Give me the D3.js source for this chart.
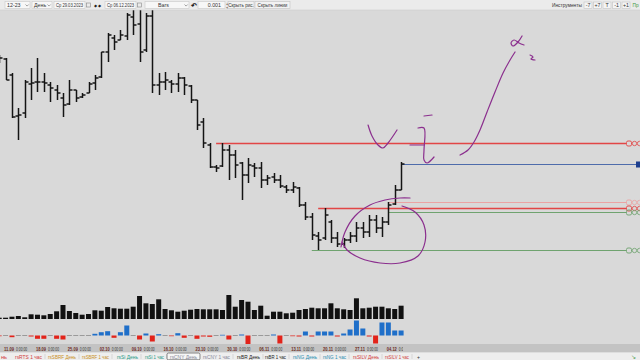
<!DOCTYPE html>
<html>
<head>
<meta charset="utf-8">
<script src="https://cdn.jsdelivr.net/npm/d3@7"></script>
<style>
html, body { margin: 0; padding: 0; background: #d9d9d9; overflow: hidden; }
svg { display: block; font-family: "Liberation Sans", Arial, sans-serif; }
</style>
</head>
<body>
<svg id="vis" width="640" height="360"></svg>
<script>
'use strict';

// daily bars, rsCNY
var dates = ['08.09', '11.09', '12.09', '13.09', '14.09', '15.09', '18.09', '19.09', '20.09', '21.09',
    '22.09', '25.09', '26.09', '27.09', '28.09', '29.09', '02.10', '03.10', '04.10', '05.10',
    '06.10', '09.10', '10.10', '11.10', '12.10', '13.10', '16.10', '17.10', '18.10', '19.10',
    '20.10', '23.10', '24.10', '25.10', '26.10', '27.10', '30.10', '31.10', '01.11', '02.11',
    '03.11', '06.11', '07.11', '08.11', '09.11', '10.11', '13.11', '14.11', '15.11', '16.11',
    '17.11', '20.11', '21.11', '22.11', '23.11', '24.11', '27.11', '28.11', '29.11', '30.11',
    '01.12', '04.12', '05.12', '06.12'];
var open = [14.00, 14.01, 13.85, 13.44, 13.47, 13.76, 13.78, 13.78, 13.75, 13.70,
    13.62, 13.56, 13.70, 13.63, 13.67, 13.77, 13.83, 14.08, 14.22, 14.20,
    14.24, 14.43, 14.36, 14.10, 14.44, 13.75, 13.78, 13.78, 13.76, 13.82,
    13.74, 13.60, 13.38, 13.15, 12.93, 12.94, 13.10, 13.05, 12.97, 12.85,
    12.94, 12.92, 12.80, 12.83, 12.80, 12.73, 12.70, 12.72, 12.55, 12.43,
    12.24, 12.22, 12.38, 12.22, 12.16, 12.20, 12.24, 12.32, 12.28, 12.40,
    12.32, 12.38, 12.56, 12.70];
var high = [14.05, 14.02, 13.87, 13.52, 13.80, 13.92, 14.02, 13.87, 13.78, 13.75,
    13.67, 13.80, 13.70, 13.67, 13.78, 13.85, 14.08, 14.27, 14.25, 14.30,
    14.47, 14.50, 14.50, 14.47, 14.50, 13.87, 13.88, 13.80, 13.87, 13.83,
    13.75, 13.60, 13.42, 13.17, 12.95, 13.17, 13.15, 13.10, 12.98, 13.02,
    12.97, 12.98, 12.85, 12.87, 12.85, 12.75, 12.78, 12.73, 12.58, 12.47,
    12.28, 12.52, 12.40, 12.28, 12.22, 12.28, 12.38, 12.38, 12.45, 12.45,
    12.43, 12.58, 12.75, 12.98];
var low = [13.97, 13.80, 13.42, 13.20, 13.42, 13.60, 13.68, 13.68, 13.58, 13.60,
    13.43, 13.55, 13.58, 13.62, 13.67, 13.70, 13.82, 13.98, 14.10, 14.20,
    14.20, 14.25, 13.98, 14.08, 13.67, 13.65, 13.70, 13.67, 13.68, 13.65,
    13.57, 13.30, 13.12, 12.92, 12.88, 12.93, 12.80, 12.82, 12.60, 12.77,
    12.83, 12.72, 12.75, 12.77, 12.72, 12.67, 12.67, 12.53, 12.40, 12.20,
    12.10, 12.20, 12.17, 12.13, 12.12, 12.17, 12.18, 12.22, 12.23, 12.27,
    12.23, 12.35, 12.55, 12.70];
var close = [14.02, 13.80, 13.43, 13.45, 13.78, 13.77, 13.78, 13.77, 13.72, 13.67,
    13.55, 13.70, 13.62, 13.65, 13.76, 13.82, 14.08, 14.25, 14.18, 14.25,
    14.45, 14.35, 14.08, 14.44, 13.75, 13.78, 13.80, 13.76, 13.82, 13.75,
    13.60, 13.35, 13.17, 12.93, 12.92, 13.10, 13.05, 12.95, 12.85, 12.95,
    12.92, 12.80, 12.82, 12.80, 12.74, 12.70, 12.73, 12.55, 12.43, 12.25,
    12.20, 12.45, 12.22, 12.16, 12.20, 12.24, 12.32, 12.28, 12.40, 12.32,
    12.38, 12.55, 12.70, 12.96];
var volume = [1.3, 1.3, 2.3, 3.0, 1.7, 4.7, 4.3, 3.7, 5.0, 7.7,
    14.0, 8.0, 6.0, 4.3, 5.0, 8.7, 8.3, 12.0, 10.7, 10.3,
    10.3, 12.3, 23.0, 15.7, 15.0, 19.7, 10.0, 8.7, 7.3, 8.3,
    9.3, 10.0, 9.7, 9.7, 9.7, 9.0, 24.0, 12.3, 19.0, 17.3,
    9.0, 13.3, 3.3, 7.3, 7.3, 5.7, 6.3, 9.0, 10.0, 11.3,
    10.7, 10.7, 15.7, 10.7, 9.7, 9.0, 20.7, 10.7, 11.3, 12.3,
    12.3, 10.7, 10.0, 13.3];
var delta = [-0.7, 0, -1.7, 0, 0, -1, -3.3, -3.3, 0, -3.3,
    -4, 0, 0, 0, 0, 1.7, 3.3, 4.3, -2.3, 3.3,
    10, 0, -4, 2, -6, 1.3, 0, -0.7, 2.3, -2.3,
    0, -3.3, -1, -1.3, 0, 0.7, -4, 0, 1, -9,
    0, 0.3, 0, 1, -8, 0, -0.7, -1, 4, -1,
    4, 4, 4, -1, 2, 6, 15, 7, -1, -8,
    13, 13, 5, 5];
var weekTicks = ['11.09', '18.09', '25.09', '02.10', '09.10', '16.10', '23.10',
    '30.10', '06.11', '13.11', '20.11', '27.11', '04.12'];
var tickTime = '0:00:00';

// horizontal levels: price, first bar, kind
var levelPrice = [13.17, 12.96, 12.58, 12.52, 12.48, 12.10];
var levelFrom = ['26.10', '06.12', '04.12', '17.11', '04.12', '16.11'];
var levelKind = ['resist', 'last', 'weak', 'resist', 'support', 'support'];

// hand drawn strokes, [bar index, price]
var inkStrokes = [
    [[57.82, 13.35], [58.44, 13.24], [59.38, 13.15], [60.17, 13.12], [60.95, 13.17], [62.36, 13.30]],
    [[66.59, 13.44], [67.85, 13.45]],
    [[65.65, 13.32], [66.59, 13.32], [66.59, 13.10], [66.59, 13.00], [67.06, 12.97], [68.16, 13.03]],
    [[64.40, 13.15], [66.59, 13.15]],
    [[72.24, 13.05], [73.49, 13.10], [74.43, 13.18], [75.37, 13.30], [76.47, 13.48], [77.72, 13.68],
        [78.98, 13.87], [80.08, 14.00], [80.86, 14.08]],
    [[81.96, 14.24], [81.33, 14.18], [80.55, 14.14], [80.23, 14.17], [80.70, 14.20], [81.49, 14.17], [82.27, 14.15]],
    [[83.21, 14.05], [83.68, 14.03], [83.37, 14.01], [83.99, 14.00]],
    [[53.58, 12.13], [54.21, 12.28], [55.78, 12.44], [58.13, 12.55], [60.48, 12.60], [62.83, 12.62], [64.40, 12.62]],
    [[63.14, 12.54], [65.18, 12.48], [66.59, 12.35], [66.75, 12.18], [65.65, 12.04], [62.83, 11.97],
        [59.70, 11.97], [56.56, 12.02], [54.52, 12.10], [53.74, 12.18]]
];

var tabNames = ['rsRTS 1 час', 'rsSBRF День', 'rsSBRF 1 час', 'rsSi День', 'rsSi 1 час',
    'rsCNY День', 'rsCNY 1 час', 'rsBR День', 'rsBR 1 час', 'rsNG День', 'rsNG 1 час',
    'rsSILV День', 'rsSILV 1 час'];
var activeTab = 'rsCNY День';

(function () {
    var svg = d3.select('#vis');
    var width = 640, height = 360;

    var x = d3.scaleLinear().domain([0, dates.length - 1]).range([-0.8, 401.1]);
    var y = d3.scaleLinear().domain([12.0, 14.6]).range([260, 0]);
    var yVol = d3.scaleLinear().domain([0, 24]).range([319, 295]);
    var yDelta = d3.scaleLinear().domain([-10, 16]).range([345.5, 319.5]);

    var levelColor = {resist: '#e24646', weak: '#eba3a3', last: '#4e6cab', support: '#6fa36f'};
    var ink = '#8b2f8e';

    svg.append('rect').attr('width', width).attr('height', height).attr('fill', '#d9d9d9');

    // levels with the little markers at the right
    var lv = svg.append('g');
    levelPrice.forEach(function (p, k) {
        var c = levelColor[levelKind[k]];
        var yy = Math.round(y(p)) + 0.5;
        var x0 = x(dates.indexOf(levelFrom[k]));
        if (levelKind[k] === 'last') {
            lv.append('line').attr('x1', x0).attr('x2', 637).attr('y1', yy).attr('y2', yy)
                .attr('stroke', c).attr('stroke-width', 1);
            lv.append('rect').attr('x', 636).attr('y', yy - 3).attr('width', 5).attr('height', 6)
                .attr('fill', '#1d3f8f');
            return;
        }
        lv.append('line').attr('x1', x0).attr('x2', 626).attr('y1', yy).attr('y2', yy)
            .attr('stroke', c).attr('stroke-width', levelKind[k] === 'resist' ? 1.5 : 1);
        lv.append('rect').attr('x', 626.5).attr('y', yy - 2.5).attr('width', 5).attr('height', 5)
            .attr('rx', 1.5).attr('fill', 'none').attr('stroke', c).attr('stroke-width', 0.9);
        lv.append('circle').attr('cx', 634.5).attr('cy', yy).attr('r', 2.2)
            .attr('fill', 'none').attr('stroke', c).attr('stroke-width', 0.8);
        lv.append('circle').attr('cx', 639.5).attr('cy', yy).attr('r', 2.2)
            .attr('fill', 'none').attr('stroke', c).attr('stroke-width', 0.8);
    });

    // OHLC bars
    var g = svg.append('g').attr('stroke', '#141414').attr('stroke-width', 1.5);
    var bar = g.selectAll('.bar').data(dates).enter().append('g').attr('class', 'bar');
    function bx(d, i) { return Math.round(x(i)) + 0.5; }
    bar.append('line')
        .attr('x1', bx).attr('x2', bx)
        .attr('y1', function (d, i) { return y(high[i]); })
        .attr('y2', function (d, i) { return y(low[i]); });
    bar.append('line')
        .attr('x1', function (d, i) { return bx(d, i) - 3; }).attr('x2', bx)
        .attr('y1', function (d, i) { return y(open[i]); })
        .attr('y2', function (d, i) { return y(open[i]); });
    bar.append('line')
        .attr('x1', bx).attr('x2', function (d, i) { return bx(d, i) + 3; })
        .attr('y1', function (d, i) { return y(close[i]); })
        .attr('y2', function (d, i) { return y(close[i]); });

    // volume
    svg.append('g').selectAll('rect').data(volume).enter().append('rect')
        .attr('x', function (d, i) { return x(i) - 2.5; })
        .attr('width', 5)
        .attr('y', function (d) { return yVol(d); })
        .attr('height', function (d) { return yVol(0) - yVol(d); })
        .attr('fill', '#111');

    // delta histogram
    svg.append('g').selectAll('rect').data(delta).enter().append('rect')
        .attr('x', function (d, i) { return x(i) - 2.5; })
        .attr('width', 5)
        .attr('y', function (d) { return Math.abs(d) < 0.5 ? yDelta(0) - 0.5 : yDelta(Math.max(0, d)); })
        .attr('height', function (d) { return Math.abs(d) < 0.5 ? 1 : Math.abs(yDelta(d) - yDelta(0)); })
        .attr('fill', function (d) {
            if (Math.abs(d) < 0.5) return '#9a9a9a';
            return d > 0 ? '#1f6fc9' : '#e2231a';
        });

    // hand drawn annotations
    var pen = d3.line()
        .x(function (d) { return x(d[0]); })
        .y(function (d) { return y(d[1]); })
        .curve(d3.curveCatmullRom);
    svg.append('g').selectAll('path').data(inkStrokes).enter().append('path')
        .attr('d', pen)
        .attr('fill', 'none')
        .attr('stroke', ink)
        .attr('stroke-width', 1.2)
        .attr('stroke-linecap', 'round')
        .attr('stroke-linejoin', 'round');

    // date strip
    svg.append('rect').attr('x', 0).attr('y', 344).attr('width', width).attr('height', 8.5).attr('fill', '#c3c3c3');
    svg.append('clipPath').attr('id', 'dclip').append('rect')
        .attr('x', 0).attr('y', 340).attr('width', 403).attr('height', 15);
    var dg = svg.append('g').attr('clip-path', 'url(#dclip)').style('font-size', '5.4px');
    weekTicks.forEach(function (t) {
        var tx = x(dates.indexOf(t)) - 1.5;
        dg.append('text').attr('x', tx).attr('y', 350.6).attr('fill', '#6b2a22').attr('font-weight', 'bold')
            .attr('textLength', 10).attr('lengthAdjust', 'spacingAndGlyphs').text(t);
        dg.append('text').attr('x', tx + 12).attr('y', 350.6).attr('fill', '#333')
            .attr('textLength', 11).attr('lengthAdjust', 'spacingAndGlyphs').text(tickTime);
    });

    // tabs
    svg.append('rect').attr('x', 0).attr('y', 352.5).attr('width', width).attr('height', 7.5).attr('fill', '#eeeeee');
    var tabColor = function (n) {
        if (n.indexOf('rsRTS') === 0 || n.indexOf('rsSILV') === 0) return '#d23c3c';
        if (n.indexOf('rsSBRF') === 0) return '#c98f1f';
        if (n.indexOf('rsSi') === 0) return '#1f9a86';
        if (n.indexOf('rsCNY') === 0) return '#8a8a9a';
        if (n.indexOf('rsNG') === 0) return '#2a8db0';
        return '#222';
    };
    var tabX = [15, 48, 82, 117, 145, 170, 203, 237, 265, 293, 323, 353, 385];
    var tabW = [27, 28, 27, 21, 19, 27, 27, 23, 21, 24, 23, 26, 24];
    var tg = svg.append('g').style('font-size', '5px');
    tg.append('text').attr('x', 1).attr('y', 358.6).attr('fill', '#d23c3c')
        .attr('textLength', 6).attr('lengthAdjust', 'spacingAndGlyphs').text('нь');
    tabNames.forEach(function (n, k) {
        if (n === activeTab) {
            tg.append('rect').attr('x', tabX[k] - 3).attr('y', 353).attr('width', tabW[k] + 6).attr('height', 6.8)
                .attr('rx', 1.5).attr('fill', '#f6f6f6').attr('stroke', '#555').attr('stroke-width', 0.7);
        }
        tg.append('text').attr('x', tabX[k]).attr('y', 358.6).attr('fill', tabColor(n))
            .attr('textLength', tabW[k]).attr('lengthAdjust', 'spacingAndGlyphs').text(n);
        tg.append('line').attr('x1', tabX[k] + tabW[k] + 3).attr('x2', tabX[k] + tabW[k] + 3).attr('y1', 354).attr('y2', 359)
            .attr('stroke', '#c8c8c8').attr('stroke-width', 0.6);
    });
    tg.append('text').attr('x', 417).attr('y', 358.8).attr('fill', '#333').text('+');
    tg.append('text').attr('x', 631).attr('y', 358.8).attr('fill', '#4c9a4c').style('font-size', '6px').text('↘');

    // toolbar
    var tb = svg.append('g').style('font-size', '5.3px');
    tb.append('rect').attr('width', width).attr('height', 10).attr('fill', '#ebebeb');
    tb.append('line').attr('x1', 0).attr('x2', width).attr('y1', 10).attr('y2', 10).attr('stroke', '#cfcfcf').attr('stroke-width', 0.6);
    var fields = [
        {t: '12-23', x: 5, w: 25, drop: true},
        {t: 'День', x: 32, w: 20, drop: true},
        {t: 'Ср 29.03.2023', x: 54, w: 31, cal: true},
        {t: 'Ср 06.12.2023', x: 105, w: 31, cal: true},
        {t: 'Bars', x: 145, w: 44, drop: true, pad: 13},
        {t: '0.001', x: 198, w: 27, right: true}
    ];
    fields.forEach(function (f) {
        tb.append('rect').attr('x', f.x).attr('y', 1.5).attr('width', f.w).attr('height', 7)
            .attr('fill', '#f7f7f7').attr('stroke', '#c9c9c9').attr('stroke-width', 0.6);
        var t = tb.append('text').attr('x', f.right ? f.x + f.w - 4 : f.x + (f.pad || 2))
            .attr('y', 7).attr('fill', '#333').attr('text-anchor', f.right ? 'end' : 'start').text(f.t);
        if (f.cal) t.attr('textLength', f.w - 4).attr('lengthAdjust', 'spacingAndGlyphs');
        if (f.drop) {
            tb.append('path').attr('d', 'M' + (f.x + f.w - 4.5) + ',4.5l1.6,1.6l1.6,-1.6').attr('fill', 'none')
                .attr('stroke', '#666').attr('stroke-width', 0.6);
        }
        if (f.cal) {
            tb.append('rect').attr('x', f.x + f.w + 1.5).attr('y', 3).attr('width', 4).attr('height', 4)
                .attr('fill', 'none').attr('stroke', '#888').attr('stroke-width', 0.6);
        }
    });
    tb.append('text').attr('x', 93.5).attr('y', 6.8).attr('fill', '#222').style('font-size', '4px').text('◆ ◆');
    tb.append('text').attr('x', 191).attr('y', 7.5).attr('fill', '#222').attr('font-weight', 'bold').style('font-size', '7px').text('↶');
    tb.append('text').attr('x', 225.5).attr('y', 5).attr('fill', '#777').style('font-size', '3.5px').text('▲');
    tb.append('text').attr('x', 225.5).attr('y', 8.5).attr('fill', '#777').style('font-size', '3.5px').text('▼');
    [{t: 'Скрыть рис.', x: 228, w: 26}, {t: 'Скрыть линии', x: 255, w: 35}].forEach(function (b) {
        tb.append('rect').attr('x', b.x).attr('y', 1.5).attr('width', b.w).attr('height', 7)
            .attr('fill', '#f2f2f2').attr('stroke', '#c2c2c2').attr('stroke-width', 0.6);
        tb.append('text').attr('x', b.x + b.w / 2).attr('y', 7).attr('text-anchor', 'middle')
            .attr('fill', '#333').style('font-size', '4.6px').text(b.t);
    });
    tb.append('text').attr('x', 552).attr('y', 7).attr('fill', '#333').style('font-size', '4.8px').text('Инструменты');
    ['-7', '+7', 'T', '-1', '+1'].forEach(function (t, k) {
        var bxp = 584 + k * 9.5;
        tb.append('rect').attr('x', bxp).attr('y', 2).attr('width', 8).attr('height', 6.5)
            .attr('fill', '#f4f4f4').attr('stroke', '#c2c2c2').attr('stroke-width', 0.6);
        tb.append('text').attr('x', bxp + 4).attr('y', 7).attr('text-anchor', 'middle').attr('fill', '#333').text(t);
    });
    tb.append('text').attr('x', 632.5).attr('y', 7).attr('fill', '#3d9a3d').style('font-size', '4.8px').text('Пр');
})();
</script>
</body>
</html>
